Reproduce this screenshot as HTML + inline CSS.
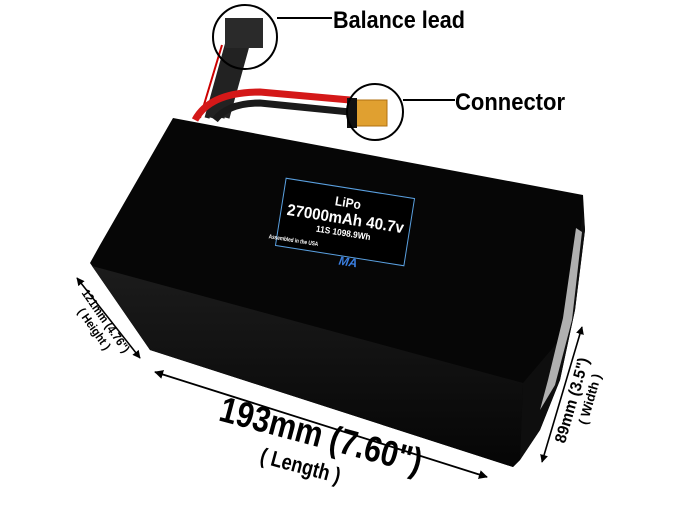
<!DOCTYPE html>
<html><head><style>
html,body{margin:0;padding:0;background:#fff;width:686px;height:511px;overflow:hidden}
text{font-family:"Liberation Sans",sans-serif;font-weight:bold}
</style></head><body>
<svg width="686" height="511" viewBox="0 0 686 511" xmlns="http://www.w3.org/2000/svg">
<defs>
<linearGradient id="fr" x1="0" y1="0" x2="0" y2="1">
<stop offset="0" stop-color="#1c1c1c"/><stop offset="1" stop-color="#050505"/></linearGradient>
<marker id="ah" viewBox="0 0 10 10" refX="9" refY="5" markerWidth="5" markerHeight="5" orient="auto-start-reverse"><path d="M0,0L10,5L0,10z" fill="#000"/></marker>
</defs>
<!-- wires -->
<path d="M222,45 L200,118" stroke="#c00" stroke-width="2" fill="none"/>
<path d="M228,42 L207,118 M233,42 L212,118 M238,42 L217,118 M243,42 L222,118 M248,42 L227,118" stroke="#222" stroke-width="5" fill="none"/>
<path d="M195,120 Q210,92 260,92 L350,100" stroke="#d41818" stroke-width="7" fill="none"/>
<path d="M215,120 Q228,103 260,103 L350,112" stroke="#1a1a1a" stroke-width="7" fill="none"/>
<rect x="225" y="18" width="38" height="30" fill="#2a2a2a"/>
<rect x="355" y="100" width="32" height="26" fill="#e0a030" stroke="#b07010"/>
<rect x="347" y="98" width="10" height="30" fill="#111"/>
<!-- body -->
<path d="M173,118 L583,195 L585,230 L575,310 L560,380 L540,430 L520,460 L513,467 L150,350 L90,263 L100,245 Z" fill="#060606"/>
<path d="M92,266 L523,383 L520,460 L513,467 L150,350 Z" fill="url(#fr)"/>
<path d="M523,383 L568,330 L583,210 L585,230 L575,310 L560,380 L540,430 L520,460 Z" fill="#0e0e0e"/>
<path d="M576,228 L582,232 L572,320 L555,385 L540,410 L548,380 L563,318 Z" fill="#b0b0b0"/>
<!-- label -->
<g transform="rotate(9 345 222)">
<rect x="280" y="188" width="130" height="68" fill="#000" stroke="#5aa0e0" stroke-width="1"/>
<text x="345" y="207" font-size="13" fill="#fff" text-anchor="middle" textLength="26" lengthAdjust="spacingAndGlyphs">LiPo</text>
<text x="345" y="224" font-size="16" fill="#fff" text-anchor="middle" textLength="118" lengthAdjust="spacingAndGlyphs">27000mAh 40.7v</text>
<text x="345" y="236" font-size="9" fill="#fff" text-anchor="middle" textLength="55" lengthAdjust="spacingAndGlyphs">11S 1098.9Wh</text>
<text x="272" y="250" font-size="6" fill="#fff" textLength="50" lengthAdjust="spacingAndGlyphs">Assembled in the USA</text>
<text x="345" y="265" font-size="12" fill="#3a7ee0" font-style="italic">MA</text>
</g>
<!-- callouts -->
<circle cx="245" cy="37" r="32" fill="none" stroke="#000" stroke-width="2"/>
<line x1="277" y1="18" x2="332" y2="18" stroke="#000" stroke-width="2"/>
<text x="333" y="28" font-size="24" fill="#000" textLength="132" lengthAdjust="spacingAndGlyphs">Balance lead</text>
<circle cx="375" cy="112" r="28" fill="none" stroke="#000" stroke-width="2"/>
<line x1="403" y1="100" x2="455" y2="100" stroke="#000" stroke-width="2"/>
<text x="455" y="110" font-size="24" fill="#000" textLength="110" lengthAdjust="spacingAndGlyphs">Connector</text>
<!-- dims -->
<line x1="77" y1="278" x2="140" y2="358" stroke="#000" stroke-width="1.6" marker-start="url(#ah)" marker-end="url(#ah)"/>
<g transform="translate(100,325) rotate(55)">
<text x="0" y="-3" font-size="12" text-anchor="middle" textLength="74" lengthAdjust="spacingAndGlyphs">121mm (4.76")</text>
<text x="0" y="11" font-size="12" text-anchor="middle" textLength="48" lengthAdjust="spacingAndGlyphs">( Height )</text>
</g>
<line x1="155" y1="372" x2="487" y2="477" stroke="#000" stroke-width="1.8" marker-start="url(#ah)" marker-end="url(#ah)"/>
<g transform="translate(318,447) rotate(15)">
<text x="0" y="0" font-size="36" text-anchor="middle" textLength="208" lengthAdjust="spacingAndGlyphs">193mm (7.60")</text>
<text x="-12" y="30" font-size="22" text-anchor="middle" textLength="82" lengthAdjust="spacingAndGlyphs">( Length )</text>
</g>
<line x1="582" y1="327" x2="542" y2="462" stroke="#000" stroke-width="1.6" marker-start="url(#ah)" marker-end="url(#ah)"/>
<g transform="translate(578,402) rotate(-74)">
<text x="0" y="-1" font-size="16" text-anchor="middle" textLength="88" lengthAdjust="spacingAndGlyphs">89mm (3.5")</text>
<text x="6" y="15" font-size="13" text-anchor="middle" textLength="52" lengthAdjust="spacingAndGlyphs">( Width )</text>
</g>
</svg>
</body></html>
